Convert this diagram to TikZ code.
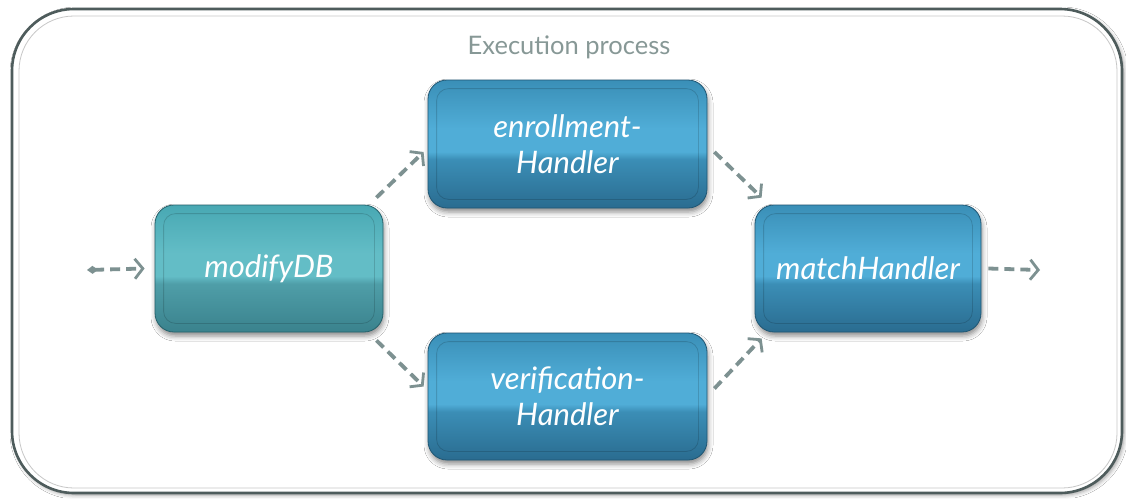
\documentclass[tikz,border=0pt]{standalone}
\usepackage{fontspec}
\setmainfont{Lato}
\usetikzlibrary{arrows.meta,shadows.blur}
\definecolor{tealT}{HTML}{48A8B3}
\definecolor{tealL}{HTML}{63BDC6}
\definecolor{tealM}{HTML}{4F9EA8}
\definecolor{tealB}{HTML}{3A828D}
\definecolor{blueT}{HTML}{3A8FB7}
\definecolor{blueL}{HTML}{50ADD7}
\definecolor{blueM}{HTML}{3B8EB6}
\definecolor{blueB}{HTML}{2A6C90}
\definecolor{tealedge}{HTML}{25616B}
\definecolor{blueedge}{HTML}{1F5673}
\definecolor{flowgray}{HTML}{7D9191}
\definecolor{titlegray}{HTML}{879896}
\definecolor{framegray}{HTML}{4E5C5C}
\pgfdeclareverticalshading{tealgloss}{100bp}{color(0bp)=(tealB); color(25bp)=(tealB); color(44bp)=(tealM); color(47bp)=(tealL); color(56bp)=(tealL); color(75bp)=(tealT); color(100bp)=(tealT)}
\pgfdeclareverticalshading{bluegloss}{100bp}{color(0bp)=(blueB); color(25bp)=(blueB); color(44bp)=(blueM); color(47bp)=(blueL); color(56bp)=(blueL); color(75bp)=(blueT); color(100bp)=(blueT)}
\tikzset{
  procbox/.style={rectangle, rounded corners=19pt, line width=0.8pt,
    text=white, align=center, font=\fontsize{31}{36}\selectfont\itshape,
    blur shadow={shadow xshift=1pt, shadow yshift=-4pt, shadow blur radius=5pt, shadow opacity=45}},
  tealbox/.style={procbox, draw=tealedge, shading=tealgloss},
  bluebox/.style={procbox, draw=blueedge, shading=bluegloss},
  innerline/.style={draw=black, draw opacity=0.15, line width=0.8pt, rounded corners=12pt},
  flow/.style={draw=flowgray, line width=3.8pt, dash pattern=on 10pt off 6pt,
    -{Straight Barb[length=8pt,width=20pt,line width=2.8pt]}},
  flowin/.style={flow, {Diamond[length=11pt,width=8pt,line width=0pt]}-{Straight Barb[length=8pt,width=20pt,line width=2.8pt]}},
  outerframe/.style={draw=framegray, line width=2.6pt, fill=white, rounded corners=62pt,
    blur shadow={shadow xshift=2pt, shadow yshift=-2pt, shadow blur radius=4pt, shadow opacity=40}},
  innerframe/.style={draw=black!22, line width=0.8pt, rounded corners=55pt},
  titletext/.style={text=titlegray, font=\fontsize{25.5}{30}\selectfont}
}
\begin{document}
\begin{tikzpicture}[x=1pt,y=-1pt]
\useasboundingbox[fill=white] (0,0) rectangle (1126,498);
\path[outerframe] (12,9) rectangle (1122,493);
\path[innerframe] (19,16) rectangle (1117,488);
\node[titletext] (title) at (569,47) {Execution process};

\node[tealbox, minimum width=228pt, minimum height=127pt] (m) at (269,268.5) {modifyDB};
\node[bluebox, minimum width=279pt, minimum height=128pt] (e) at (567.5,144) {enrollment-\\Handler};
\node[bluebox, minimum width=279pt, minimum height=127pt] (v) at (567.5,396.5) {verification-\\Handler};
\node[bluebox, minimum width=226pt, minimum height=127pt] (h) at (868,268.5) {matchHandler};

\foreach \n in {m,e,v,h}{
  \path[innerline] ([shift={(9pt,-9pt)}]\n.north west) rectangle ([shift={(-9pt,9pt)}]\n.south east);
}

\coordinate (in) at (87,270);
\coordinate (out) at (1040,270);
\draw[flowin] (in) -- ([xshift=-10pt]m.west);
\draw[flow] ([xshift=-7pt,yshift=7pt]m.north east) -- ([xshift=-4pt,yshift=-8pt]e.west);
\draw[flow] ([xshift=-7pt,yshift=-8pt]m.south east) -- ([xshift=-4pt,yshift=10pt]v.west);
\draw[flow] ([xshift=7pt,yshift=-8pt]e.east) -- ([xshift=7pt,yshift=7pt]h.north west);
\draw[flow] ([xshift=7pt,yshift=8pt]v.east) -- ([xshift=7pt,yshift=-6pt]h.south west);
\draw[flow] ([xshift=7pt]h.east) -- (out);
\end{tikzpicture}
\end{document}
